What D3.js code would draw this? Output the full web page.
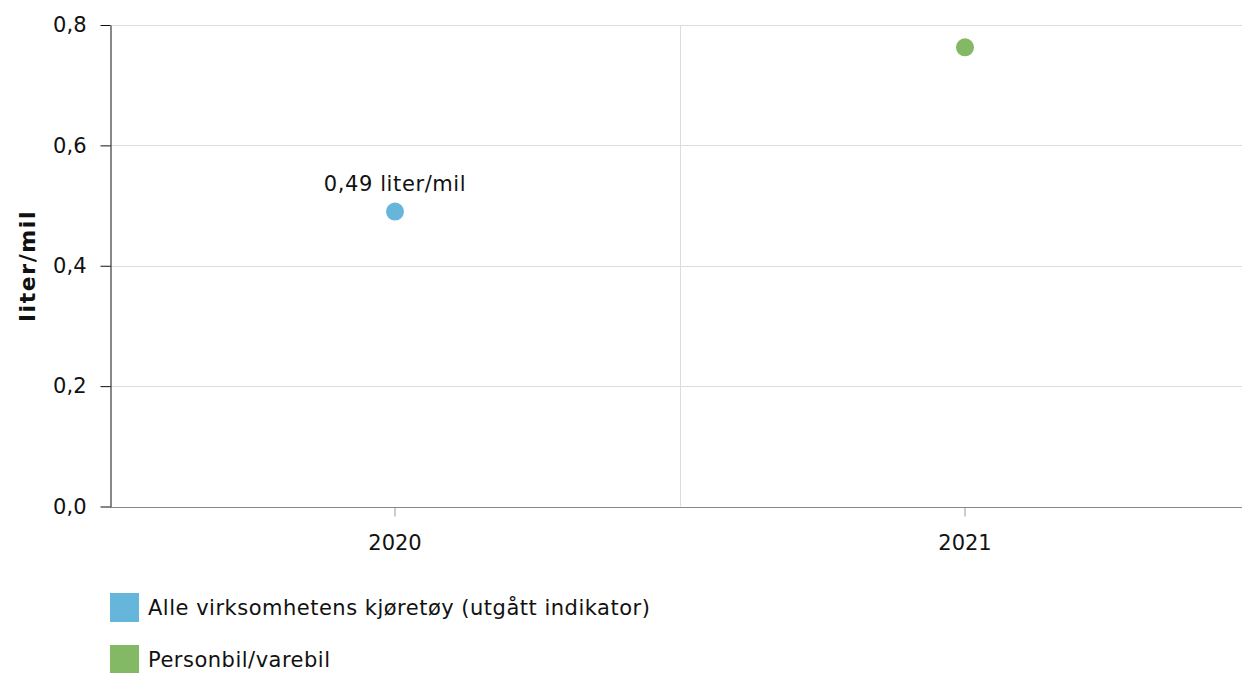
<!DOCTYPE html>
<html lang="no">
<head>
<meta charset="utf-8">
<script src="https://d3js.org/d3.v7.min.js"></script>
<style>
  body { margin: 0; background: #fff; }
  text { font-family: "DejaVu Sans", Verdana, sans-serif; fill: #111; }
</style>
</head>
<body>
<svg id="chart"></svg>
<script>
const years = ["2020", "2021"];
const seriesNames = ["Alle virksomhetens kjøretøy (utgått indikator)", "Personbil/varebil"];
const seriesColors = ["#66b6dc", "#83b964"];
// one value per series per year, null where missing
const allVehicles = [0.49, null];
const carVan = [null, 0.763];
const yTicks = [0, 0.2, 0.4, 0.6, 0.8];

const width = 1242, height = 673;
const margin = { top: 25, left: 110, bottom: 167 };
const fs = "21px";

const svg = d3.select("#chart").attr("width", width).attr("height", height);

const x = d3.scaleBand().domain(years).range([margin.left, 1250]);
const y = d3.scaleLinear().domain([0, 0.8]).range([height - margin.bottom + 0.5, margin.top]);

// horizontal grid
svg.append("g").selectAll("line").data(yTicks.slice(1)).join("line")
  .attr("x1", margin.left).attr("x2", width)
  .attr("y1", d => Math.round(y(d)) + 0.5).attr("y2", d => Math.round(y(d)) + 0.5)
  .attr("stroke", "#dcdcdc");

// vertical grid between categories
svg.append("g").selectAll("line").data(years.slice(1)).join("line")
  .attr("x1", d => Math.round(x(d)) + 0.5).attr("x2", d => Math.round(x(d)) + 0.5)
  .attr("y1", margin.top).attr("y2", y(0))
  .attr("stroke", "#dcdcdc");

// x axis
const xAxis = svg.append("g")
  .attr("transform", `translate(0,${Math.round(y(0)) + 0.5})`)
  .call(d3.axisBottom(x).tickSize(9).tickPadding(19).tickSizeOuter(0));
xAxis.select(".domain").attr("stroke", "#888").attr("d", `M${margin.left},0H${width}`);
xAxis.selectAll(".tick line").attr("stroke", "#999");
xAxis.selectAll(".tick text").style("font-size", fs).attr("fill", "#111");

// y axis
const yAxis = svg.append("g")
  .attr("transform", `translate(${margin.left + 0.5},0)`)
  .call(d3.axisLeft(y).tickValues(yTicks).tickSize(10).tickPadding(14)
    .tickFormat(d => d3.format(".1f")(d).replace(".", ",")).tickSizeOuter(0));
yAxis.select(".domain").attr("stroke", "#111");
yAxis.selectAll(".tick line").attr("stroke", "#111");
yAxis.selectAll(".tick text").style("font-size", fs).attr("fill", "#111");

svg.append("text")
  .attr("transform", `translate(35,${(margin.top + y(0)) / 2}) rotate(-90)`)
  .attr("text-anchor", "middle")
  .style("font-size", "22px").style("font-weight", "bold").style("letter-spacing", "1.6px")
  .text("liter/mil");

// points
const series = [allVehicles, carVan];
series.forEach((vals, si) => {
  const pts = years.map((yr, i) => ({ yr, v: vals[i] })).filter(d => d.v != null);
  svg.append("g").selectAll("circle").data(pts).join("circle")
    .attr("cx", d => x(d.yr) + x.bandwidth() / 2)
    .attr("cy", d => y(d.v))
    .attr("r", 9)
    .attr("fill", seriesColors[si]);
  if (si === 0) {
    svg.append("g").selectAll("text").data(pts).join("text")
      .attr("x", d => x(d.yr) + x.bandwidth() / 2)
      .attr("y", d => y(d.v) - 21)
      .attr("text-anchor", "middle")
      .style("font-size", fs).style("letter-spacing", "0.6px")
      .text(d => d3.format(".2f")(d.v).replace(".", ",") + " liter/mil");
  }
});

// legend
const legend = svg.append("g").selectAll("g").data(seriesNames).join("g")
  .attr("transform", (d, i) => `translate(110,${593 + i * 52})`);
legend.append("rect").attr("width", 29).attr("height", 29)
  .attr("fill", (d, i) => seriesColors[i]);
legend.append("text").attr("x", 38).attr("y", 22)
  .style("font-size", fs).style("letter-spacing", "0.5px").text(d => d);
</script>
</body>
</html>
